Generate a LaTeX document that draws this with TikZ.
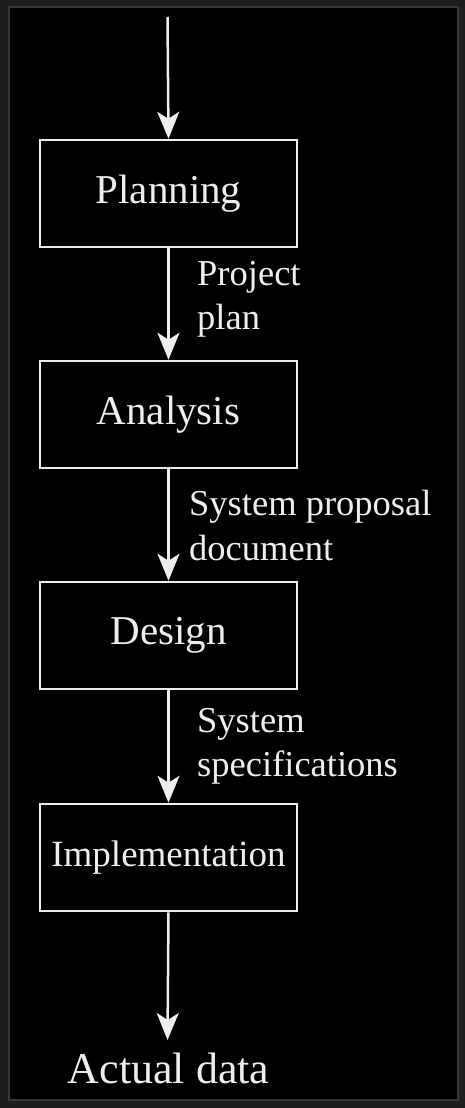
\documentclass[tikz,border=0pt]{standalone}
\usepackage{fontspec}
\setmainfont{Liberation Serif}
\usetikzlibrary{arrows.meta}

\definecolor{Ink}{HTML}{EEEEEE}
\definecolor{Frame}{HTML}{1E1E1E}
\definecolor{Rim}{HTML}{383838}

\begin{document}
\begin{tikzpicture}[x=1pt, y=-1pt,
  box/.style={draw=Ink, line width=2.5pt, inner sep=0pt, minimum width=257pt, minimum height=107pt, text=Ink, font=\fontsize{41}{44}\selectfont},
  flow/.style={draw=Ink, line width=2.5pt, -{Stealth[length=27pt, width=22pt, inset=7pt]}},
  lbl/.style={text=Ink, inner sep=0pt, anchor=north west, align=left, font=\fontsize{36.5}{44.5}\selectfont}]

 \useasboundingbox (0,0) rectangle (465,1108);

 %%%%%%%%%% Background and frame %%%%%%%%%%
 \fill [color=Frame] (0,0) rectangle (465,1108);
 \fill [color=Rim] (8,6) rectangle (459,1101);
 \fill [color=black] (10,8) rectangle (457,1099);

 %%%%%%%%%% Points pour travailler %%%%%%%%%%
 \coordinate (in) at (167.5,17);
 \coordinate (out) at (167.5,1040);

 %%%%%%%%%% Phases %%%%%%%%%%
 \node [box] (plan) at (168.5,193.5) {Planning};
 \node [box] (anal) at (168.5,414.5) {Analysis};
 \node [box] (desg) at (168.5,635.5) {Design};
 \node [box, font=\fontsize{37}{44}\selectfont] (impl) at (168.5,857.5) {Implementation};
 \node [text=Ink, inner sep=0pt, anchor=base, font=\fontsize{44}{48}\selectfont] (data) at (168.5,1083) {Actual data};

 %%%%%%%%%% Flows %%%%%%%%%%
 \draw [flow] (in) -- (plan.north);
 \draw [flow] (plan.south) -- (anal.north);
 \draw [flow] (anal.south) -- (desg.north);
 \draw [flow] (desg.south) -- (impl.north);
 \draw [flow] (impl.south) -- (out);

 %%%%%%%%%% Products %%%%%%%%%%
 \node [lbl] (pplan) at (197,261) {Project\\plan};
 \node [lbl] (sprop) at (189,490) {System proposal\\document};
 \node [lbl] (sspec) at (197,708) {System\\specifications};

\end{tikzpicture}
\end{document}
